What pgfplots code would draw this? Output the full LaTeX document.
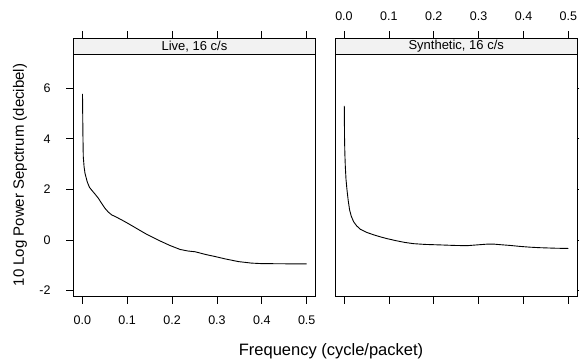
\documentclass[border=0pt]{standalone}
\usepackage{fontspec}
\setmainfont{Liberation Sans}
\usepackage{pgfplots}
\pgfplotsset{compat=1.18}
\definecolor{stripgray}{RGB}{242,242,242}
\begin{document}
\begin{tikzpicture}
\pgfplotsset{
  panel/.style={
    scale only axis,
    width=242.4pt, height=258.4pt,
    xmin=-0.02, xmax=0.52, ymin=-2.25, ymax=7.98,
    xtick={0,0.1,0.2,0.3,0.4,0.5},
    ytick={-2,0,2,4,6},
    xticklabels={0.0,0.1,0.2,0.3,0.4,0.5},
    tick align=outside,
    major tick length=6.8pt,
    axis line style={line width=0.8pt},
    tick style={line width=0.7pt, black},
    /pgf/number format/assume math mode=true,
    ticklabel style={font=\fontsize{12.5}{13}\selectfont},
    clip=false,
  },
}
\begin{axis}[panel, at={(73.3pt,-296.7pt)}, anchor=south west,
  xticklabel pos=lower, xtick pos=both,
  ytick pos=left,
  xticklabel style={yshift=-8.5pt},
  yticklabel style={xshift=-12.5pt},
]
\addplot[black, line width=0.9pt] coordinates {
(0.0005,5.78) (0.001,4.9) (0.0015,4.1) (0.0022,3.3) (0.004,2.9) (0.006,2.64)
(0.011,2.3) (0.016,2.08) (0.021,1.97) (0.028,1.82) (0.0357,1.65) (0.043,1.45)
(0.0506,1.25) (0.058,1.10) (0.0655,0.99) (0.076,0.90) (0.0878,0.79) (0.10,0.67)
(0.1136,0.53) (0.128,0.38) (0.1435,0.22) (0.158,0.09) (0.173,-0.04) (0.195,-0.22)
(0.218,-0.38) (0.235,-0.44) (0.251,-0.47) (0.26,-0.51) (0.275,-0.58) (0.296,-0.66)
(0.32,-0.76) (0.348,-0.86) (0.377,-0.92) (0.40,-0.94) (0.437,-0.945) (0.47,-0.95) (0.5,-0.95)
};
\draw[line width=0.8pt, fill=stripgray] (axis cs:-0.02,7.36) rectangle (axis cs:0.52,7.98);
\node[font=\fontsize{13}{14}\selectfont] at (axis cs:0.25,7.67) {Live, 16 c/s};
\end{axis}
\begin{axis}[panel, at={(335pt,-296.7pt)}, anchor=south west,
  xticklabel pos=upper, xtick pos=both,
  ytick pos=right, yticklabels={},
  xticklabel style={yshift=7pt},
]
\addplot[black, line width=0.9pt] coordinates {
(0.0007,5.3) (0.001,4.6) (0.0013,3.96) (0.002,3.4) (0.003,2.90) (0.0045,2.4)
(0.0067,1.98) (0.0095,1.55) (0.0125,1.19) (0.016,0.95) (0.0214,0.72) (0.028,0.56)
(0.0363,0.42) (0.05,0.30) (0.066,0.20) (0.081,0.12) (0.0957,0.05) (0.118,-0.04)
(0.135,-0.10) (0.155,-0.15) (0.18,-0.18) (0.215,-0.20) (0.245,-0.22) (0.274,-0.23)
(0.296,-0.20) (0.318,-0.17) (0.335,-0.17) (0.348,-0.19) (0.37,-0.22) (0.393,-0.26)
(0.415,-0.29) (0.437,-0.31) (0.47,-0.33) (0.5,-0.34)
};
\draw[line width=0.8pt, fill=stripgray] (axis cs:-0.02,7.36) rectangle (axis cs:0.52,7.98);
\node[font=\fontsize{13}{14}\selectfont] at (axis cs:0.25,7.67) {Synthetic, 16 c/s};
\end{axis}
\node[rotate=90, font=\fontsize{15}{16}\selectfont] at (20pt,-175pt) {10 Log Power Sepctrum (decibel)};
\node[font=\fontsize{16.5}{17}\selectfont] at (331pt,-351pt) {Frequency (cycle/packet)};
\pgfresetboundingbox
\useasboundingbox (0pt,0pt) rectangle (579pt,-362pt);
\end{tikzpicture}
\end{document}
